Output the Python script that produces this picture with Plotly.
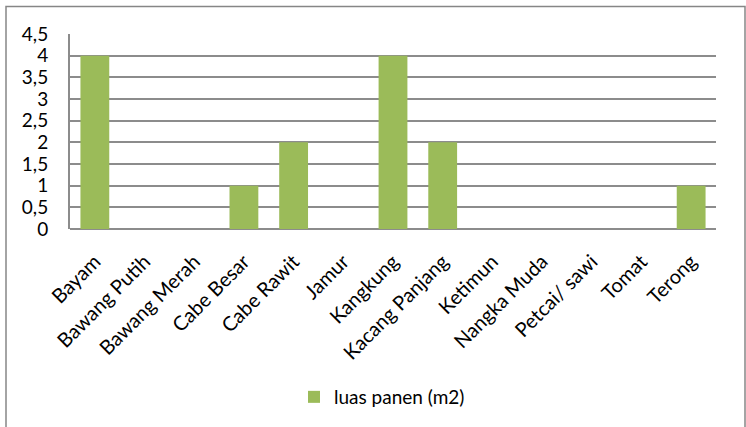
import plotly.graph_objects as go

categories = ["Bayam", "Bawang Putih", "Bawang Merah", "Cabe Besar", "Cabe Rawit", "Jamur",
              "Kangkung", "Kacang Panjang", "Ketimun", "Nangka Muda", "Petcai/ sawi", "Tomat", "Terong"]
luas_panen = [4, 0, 0, 1, 2, 0, 4, 2, 0, 0, 0, 0, 1]
series_name = "luas panen (m2)"
y_ticks = [0, 0.5, 1, 1.5, 2, 2.5, 3, 3.5, 4, 4.5]

W, H = 746, 427
L, R, T, B = 70, 716, 34, 229
pw, ph = R - L, B - T

def px_x(x):
    return (x - L) / pw

def px_y(y):
    return (B - y) / ph

fig = go.Figure()
fig.add_trace(go.Bar(x=categories, y=luas_panen, name=series_name,
                     marker=dict(color="#9BBB59", line=dict(width=0))))

fig.update_layout(
    width=W, height=H,
    margin=dict(l=L, r=W - R, t=T, b=H - B, autoexpand=False),
    paper_bgcolor="white", plot_bgcolor="white",
    separators=",.",
    bargap=0.42,
    font=dict(family="Lato, Open Sans, sans-serif", size=19, color="#000000"),
    showlegend=True,
    legend=dict(orientation="h", x=px_x(382), xanchor="center", y=px_y(397), yanchor="middle",
                font=dict(size=19), itemwidth=30),
    xaxis=dict(tickangle=-45, showgrid=False, showline=False, ticks="outside", ticklen=12,
               tickcolor="rgba(0,0,0,0)", tickfont=dict(size=20)),
    yaxis=dict(range=[0, 4.5], tickvals=y_ticks, showgrid=True, gridcolor="#8c8c8c", gridwidth=2,
               showline=True, linecolor="#8c8c8c", linewidth=2, ticks="outside", ticklen=16,
               tickcolor="rgba(0,0,0,0)", zeroline=True,
               zerolinecolor="#8c8c8c", zerolinewidth=2, tickfont=dict(size=19)),
    shapes=[dict(type="rect", xref="paper", yref="paper",
                 x0=px_x(6), x1=px_x(745), y0=px_y(430), y1=px_y(6.5),
                 line=dict(color="#868686", width=1.5), layer="below")],
)

fig.write_html("out.html", config={"displayModeBar": False},
               post_script="document.body.style.margin='0';document.body.style.padding='0';")
